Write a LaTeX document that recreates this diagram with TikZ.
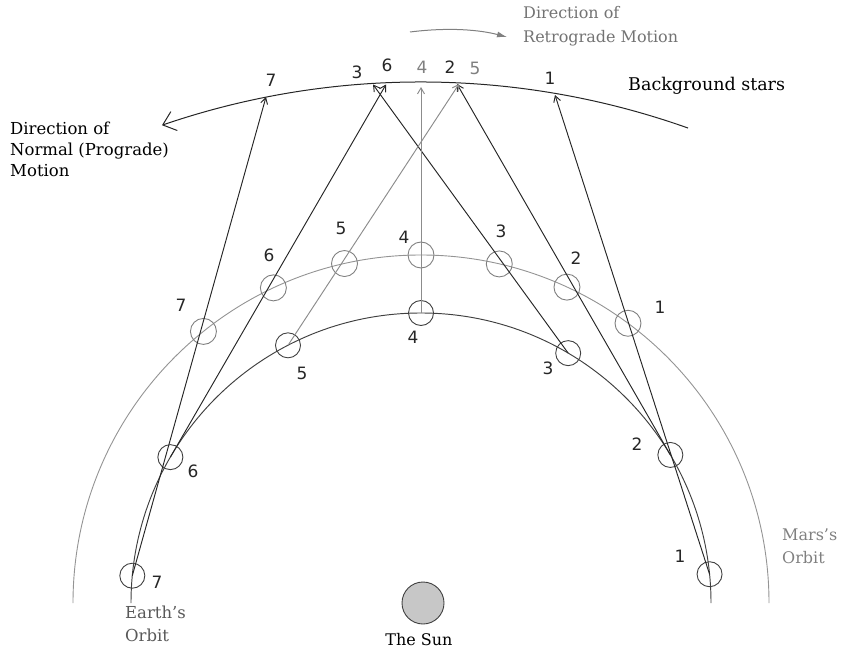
\documentclass[tikz,border=0pt]{standalone}
\usepackage{fontspec}
\setmainfont{DejaVu Serif}
\newfontfamily\numfont{DejaVu Sans}
\usetikzlibrary{arrows.meta,calc}
\begin{document}
\begin{tikzpicture}[x=1pt,y=1pt,
  every node/.style={inner sep=0pt},
  earthpos/.style={circle,draw=black!75,line width=0.9pt,minimum size=25pt},
  marspos/.style={circle,draw=black!50,line width=0.9pt,minimum size=26pt},
  num/.style={font=\numfont\fontsize{17}{20}\selectfont,text=black!85},
  greynum/.style={num,text=black!50},
  caption/.style={font=\fontsize{16.5}{21}\selectfont,align=left,anchor=west},
  sightline/.style={draw=black!85,line width=0.95pt,-{Straight Barb[length=6pt,width=7pt]}},
  greysight/.style={sightline,draw=black!45},
  earthorbit/.style={draw=black!75,line width=0.95pt},
  marsorbit/.style={draw=black!42,line width=0.9pt},
]
\useasboundingbox (0,0) rectangle (848,657);
\coordinate (O) at (421,54);
\coordinate (S) at (421,-223);

% orbits
\draw[earthorbit] (O) ++(0:290) arc[start angle=0,end angle=180,radius=290];
\draw[marsorbit] (O) ++(0:348) arc[start angle=0,end angle=180,radius=348];

% background stars arc
\draw[draw=black!85,line width=1pt,-{Straight Barb[length=12pt,width=20pt]}]
  (S) ++(70.45:798) arc[start angle=70.45,end angle=108.94,radius=798];

% sun
\node[circle,draw=black!75,fill=black!22,line width=0.9pt,minimum size=42pt] (sun) at (423,54) {};
\node[font=\fontsize{16}{20}\selectfont] (sunlbl) at (419,17) {The Sun};

% Earth positions
\node[earthpos] (E1) at ($(O)+(5.7:290)$) {};
\node[earthpos] (E2) at ($(O)+(30.7:290)$) {};
\node[earthpos] (E3) at ($(O)+(59.5:290)$) {};
\node[earthpos] (E4) at ($(O)+(90:290)$) {};
\node[earthpos] (E5) at ($(O)+(117.3:290)$) {};
\node[earthpos] (E6) at ($(O)+(149.8:290)$) {};
\node[earthpos] (E7) at ($(O)+(174.6:290)$) {};

% Mars positions
\node[marspos] (M1) at ($(O)+(53.5:348)$) {};
\node[marspos] (M2) at ($(O)+(65.2:348)$) {};
\node[marspos] (M3) at ($(O)+(77:348)$) {};
\node[marspos] (M4) at ($(O)+(90:348)$) {};
\node[marspos] (M5) at ($(O)+(102.7:348)$) {};
\node[marspos] (M6) at ($(O)+(115.1:348)$) {};
\node[marspos] (M7) at ($(O)+(128.7:348)$) {};

% apparent positions on the star arc
\coordinate (T1) at (555,562);
\coordinate (T2) at (457,573);
\coordinate (T3) at (373,572.5);
\coordinate (T4) at (421,570);
\coordinate (T5) at (459,573);
\coordinate (T6) at (386,572.5);
\coordinate (T7) at (266,560);

% lines of sight
\draw[sightline] (E1.center) -- (T1);
\draw[sightline] (E2.center) -- (T2);
\draw[sightline] (E3.center) -- (T3);
\draw[greysight] (E4.center) -- (T4);
\draw[greysight] (E5.center) -- (T5);
\draw[sightline] (E6.center) -- (T6);
\draw[sightline] (E7.center) -- (T7);

% labels on the star arc
\node[num] (s7) at (271,577) {7};
\node[num] (s3) at (357,585) {3};
\node[num] (s6) at (387,592) {6};
\node[greynum] (s4) at (422,590) {4};
\node[num] (s2) at (450,590) {2};
\node[greynum] (s5) at (475,589) {5};
\node[num] (s1) at (550,579) {1};

% labels of Mars positions
\node[num] (m1) at (660,350) {1};
\node[num] (m2) at (576,399) {2};
\node[num] (m3) at (501,426) {3};
\node[num] (m4) at (404,420) {4};
\node[num] (m5) at (341,429) {5};
\node[num] (m6) at (269,402) {6};
\node[num] (m7) at (181,352) {7};

% labels of Earth positions
\node[num] (e1) at (680,101) {1};
\node[num] (e2) at (637,213) {2};
\node[num] (e3) at (548,289) {3};
\node[num] (e4) at (413,320) {4};
\node[num] (e5) at (302,284) {5};
\node[num] (e6) at (193,186) {6};
\node[num] (e7) at (157,75) {7};

% captions
\node[caption] (prograde) at (10,508) {Direction of\\Normal (Prograde)\\Motion};
\node[caption,font=\fontsize{17.5}{21}\selectfont] (stars) at (628,571) {Background stars};
\node[caption,text=black!55,font=\fontsize{16}{24}\selectfont] (retro) at (523,631) {Direction of\\Retrograde Motion};
\node[caption,text=black!65,font=\fontsize{16.5}{23}\selectfont] (earthlbl) at (125,33) {Earth's\\Orbit};
\node[caption,text=black!50,font=\fontsize{16}{23}\selectfont] (marslbl) at (782,111) {Mars's\\Orbit};

% retrograde direction arrow
\coordinate (r0) at (410,625);
\coordinate (r1) at (507,620);
\draw[draw=black!50,line width=1pt,-{Latex[length=10pt,width=6pt]}]
  (r0) .. controls (450,630) and (480,627) .. (r1);
\end{tikzpicture}
\end{document}
